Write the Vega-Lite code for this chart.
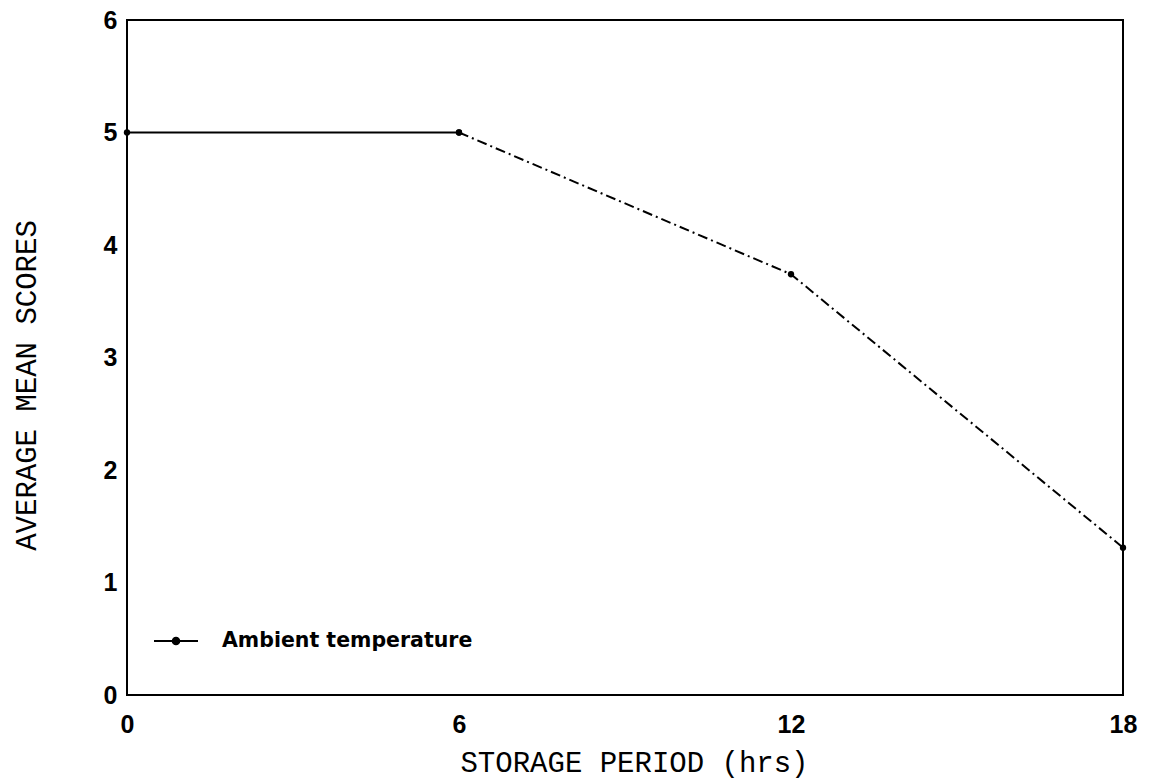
{
  "$schema": "https://vega.github.io/schema/vega-lite/v6.json",
  "autosize": {"type": "none"},
  "padding": {"left": 127, "top": 20, "right": 32, "bottom": 88},
  "width": 996,
  "height": 675,
  "background": "white",
  "config": {
    "view": {"stroke": "black", "strokeWidth": 2},
    "axis": {"domain": false, "ticks": false, "grid": false, "labelColor": "black", "titleColor": "black"}
  },
  "data": {
    "values": [
      {"hrs": 0, "score": 5.0, "segment": "a", "series": "Ambient temperature"},
      {"hrs": 6, "score": 5.0, "segment": "a", "series": "Ambient temperature"},
      {"hrs": 6, "score": 5.0, "segment": "b", "series": "Ambient temperature"},
      {"hrs": 12, "score": 3.74, "segment": "b", "series": "Ambient temperature"},
      {"hrs": 18, "score": 1.31, "segment": "b", "series": "Ambient temperature"}
    ]
  },
  "encoding": {
    "x": {
      "field": "hrs", "type": "quantitative",
      "scale": {"domain": [0, 18], "nice": false, "zero": false},
      "axis": {
        "values": [0, 6, 12, 18],
        "title": "STORAGE PERIOD (hrs)",
        "labelFont": "Liberation Sans", "labelFontSize": 25, "labelFontWeight": "bold",
        "labelPadding": 17, "labelFlush": false, "labelOverlap": false,
        "titleFont": "Liberation Mono", "titleFontSize": 29, "titleFontWeight": "normal",
        "titleX": 507, "titleY": 67, "titleAnchor": "middle", "titleBaseline": "middle"
      }
    },
    "y": {
      "field": "score", "type": "quantitative",
      "scale": {"domain": [0, 6], "nice": false},
      "axis": {
        "values": [0, 1, 2, 3, 4, 5, 6],
        "title": "AVERAGE MEAN SCORES",
        "labelFont": "Liberation Sans", "labelFontSize": 25, "labelFontWeight": "bold",
        "labelPadding": 10,
        "titleFont": "Liberation Mono", "titleFontSize": 29, "titleFontWeight": "normal",
        "titleX": -101, "titleY": 365, "titleAngle": 270, "titleAlign": "center", "titleBaseline": "middle"
      }
    }
  },
  "layer": [
    {
      "mark": {"type": "line", "color": "black", "strokeWidth": 2},
      "encoding": {
        "detail": {"field": "segment"},
        "strokeDash": {
          "field": "segment", "type": "nominal",
          "scale": {"domain": ["a", "b"], "range": [[1, 0], [10, 4, 2, 4]]},
          "legend": null
        }
      }
    },
    {
      "mark": {"type": "point", "filled": true, "shape": "circle", "size": 40, "opacity": 1},
      "encoding": {
        "color": {
          "field": "series", "type": "nominal",
          "scale": {"range": ["black"]},
          "legend": {
            "title": null,
            "orient": "none",
            "legendX": 26,
            "legendY": 598,
            "padding": 0,
            "symbolType": "M-1,0L1,0M-0.15,0A0.15,0.15,0,1,1,0.15,0A0.15,0.15,0,1,1,-0.15,0",
            "symbolSize": 1936,
            "symbolStrokeWidth": 2,
            "symbolStrokeColor": "black",
            "symbolFillColor": "black",
            "labelFont": "DejaVu Sans",
            "labelFontSize": 20.5,
            "labelFontWeight": "bold",
            "labelColor": "black",
            "labelOffset": 23,
            "labelLimit": 500
          }
        }
      }
    }
  ]
}
